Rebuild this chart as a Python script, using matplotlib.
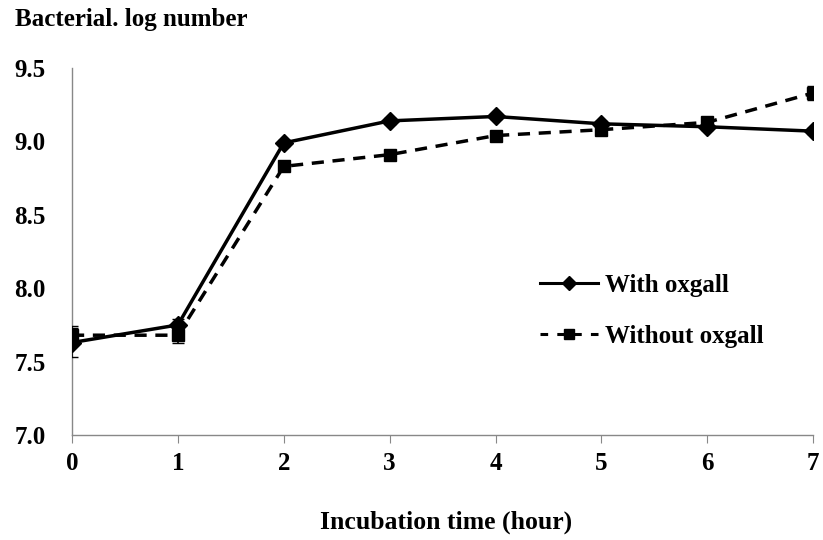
import matplotlib
matplotlib.use("Agg")
import matplotlib.pyplot as plt
from matplotlib.lines import Line2D

hours = [0, 1, 2, 3, 4, 5, 6, 7]
with_oxgall = [7.63, 7.75, 8.99, 9.14, 9.17, 9.12, 9.10, 9.07]
with_err = [0.10, 0.04, 0.02, 0.02, 0.02, 0.02, 0.02, 0.02]
without_oxgall = [7.68, 7.68, 8.83, 8.91, 9.04, 9.08, 9.13, 9.33]
without_err = [0.06, 0.05, 0.02, 0.02, 0.02, 0.02, 0.02, 0.05]
yticks = [7.0, 7.5, 8.0, 8.5, 9.0, 9.5]

plt.rcParams['font.family'] = ['Liberation Serif', 'DejaVu Serif']
plt.rcParams['font.weight'] = 'bold'

FS = 18

fig = plt.figure(figsize=(8.23, 5.4), dpi=100)
ax = fig.add_axes([0.0875, 0.1944, 0.9005, 0.6796])

ax.errorbar(hours, with_oxgall, yerr=with_err, color='black', lw=2.5,
            marker='D', markersize=9, capsize=4, elinewidth=1.2, zorder=3)
ax.errorbar(hours, without_oxgall, yerr=without_err, color='black', lw=2.5,
            ls=(0, (3.5, 2.5)), marker='s', markersize=8.5, capsize=4,
            elinewidth=1.2, zorder=3)

ax.set_xlim(0, 7)
ax.set_ylim(7.0, 9.5)
ax.set_xticks(hours)
ax.set_yticks(yticks)
ax.set_yticklabels([f"{v:.1f}" for v in yticks])
for s in ['top', 'right']:
    ax.spines[s].set_visible(False)
for s in ['left', 'bottom']:
    ax.spines[s].set_color('#888888')
    ax.spines[s].set_linewidth(1.0)
ax.tick_params(axis='x', length=6, color='#888888', labelsize=FS, pad=6, direction='out')
ax.tick_params(axis='y', length=0, labelsize=FS, pad=19)
for lab in ax.get_xticklabels() + ax.get_yticklabels():
    lab.set_fontweight('bold')

fig.text(0.018, 0.963, 'Bacterial. log number', fontsize=FS, fontweight='bold',
         va='center', ha='left')
fig.text(0.542, 0.032, 'Incubation time (hour)', fontsize=18.5, fontweight='bold',
         va='center', ha='center')

handles = [
    Line2D([], [], color='black', lw=2.2, marker='D', markersize=7),
    Line2D([], [], color='black', lw=2.2, ls=(0, (2.5, 3.0)), marker='s', markersize=7),
]
ax.legend(handles, ['With oxgall', 'Without oxgall'], loc='center left',
          bbox_to_anchor=(0.632, 0.338), frameon=False, borderpad=0,
          borderaxespad=0, handlelength=2.3, handletextpad=0.3,
          labelspacing=1.1, prop={'weight': 'bold', 'size': FS})

fig.savefig('out.png', dpi=100, facecolor='white')
